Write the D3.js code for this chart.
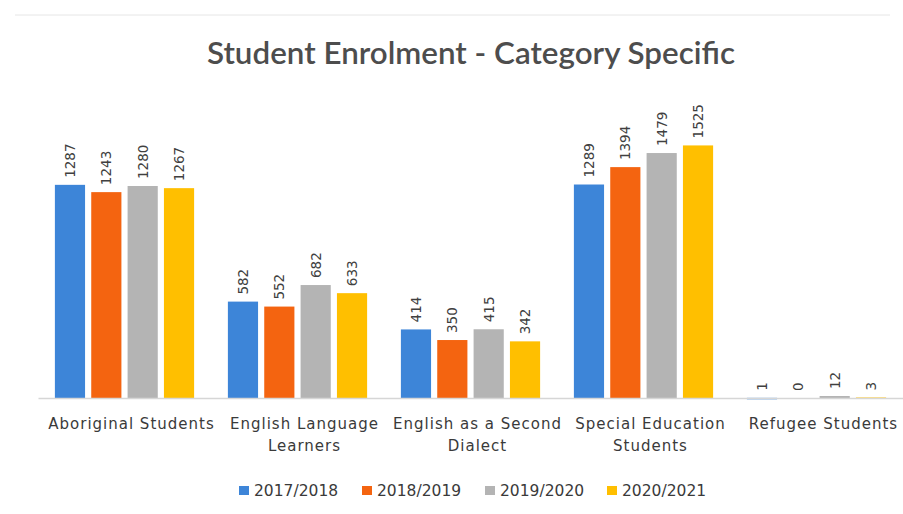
<!DOCTYPE html>
<html><head><meta charset="utf-8">
<script src="https://cdn.jsdelivr.net/npm/d3@7/dist/d3.min.js"></script>
<style>body{margin:0;background:#fff}svg{display:block}</style>
</head><body>
<svg id="c" width="903" height="514"></svg>
<script>
const categories = [["Aboriginal Students"],["English Language","Learners"],["English as a Second","Dialect"],["Special Education","Students"],["Refugee Students"]];
const series = ["2017/2018","2018/2019","2019/2020","2020/2021"];
const colors = ["#3d85d8","#f46410","#b4b4b4","#ffbf00"];
const v2017 = [1287,582,414,1289,1];
const v2018 = [1243,552,350,1394,0];
const v2019 = [1280,682,415,1479,12];
const v2020 = [1267,633,342,1525,3];
const values = [v2017,v2018,v2019,v2020];

const svg = d3.select("#c");
svg.append("rect").attr("x",0).attr("y",0).attr("width",903).attr("height",514).attr("fill","#fff");
svg.append("line").attr("x1",15).attr("x2",890).attr("y1",15).attr("y2",15).attr("stroke","#e6e6e6");

const x0 = d3.scaleBand().domain(d3.range(categories.length)).range([38,903]).paddingInner(0.17).paddingOuter(0.085);
const x1 = d3.scaleBand().domain(d3.range(series.length)).range([0,x0.bandwidth()]).paddingInner(0.17).paddingOuter(0.06);
const y = d3.scaleLinear().domain([0,1600]).range([398,133]);

svg.append("text").attr("x",471).attr("y",64).attr("text-anchor","middle")
  .attr("font-family","Lato").attr("font-size",30).attr("font-weight",600).attr("fill","#4d4d4d")
  .attr("textLength",528).attr("lengthAdjust","spacingAndGlyphs").text("Student Enrolment  - Category Specific");

const g = svg.append("g");
series.forEach((s,si)=>{
  categories.forEach((c,ci)=>{
    const v = values[si][ci];
    const bx = x0(ci)+x1(si), bw = x1.bandwidth();
    g.append("rect").attr("x",bx).attr("y",y(v)).attr("width",bw).attr("height",Math.max(y(0)-y(v), v>0?1.5:0.8))
      .attr("fill",colors[si]).attr("opacity", v>0?1:0.5);
    const tx = bx+bw/2+5, ty = y(v)-7;
    g.append("text").attr("transform",`translate(${tx},${ty}) rotate(-90)`)
      .attr("font-family","DejaVu Sans").attr("font-size",13.5).attr("fill","#404040").text(v);
  });
});

const axis = d3.axisBottom(x0).tickSize(0).tickFormat("");
const ag = svg.append("g").attr("transform","translate(0,398)").call(axis);
ag.select(".domain").attr("stroke","#d6d6d6").attr("stroke-width",1.5);

categories.forEach((lines,ci)=>{
  lines.forEach((l,li)=>{
    svg.append("text").attr("x",x0(ci)+x0.bandwidth()/2+7).attr("y",429+li*22).attr("text-anchor","middle")
      .attr("font-family","DejaVu Sans").attr("font-size",15).attr("letter-spacing",1.0).attr("fill","#3a3a3a").text(l);
  });
});

const legX = [239,362,485,607];
series.forEach((s,i)=>{
  svg.append("rect").attr("x",legX[i]).attr("y",486).attr("width",10).attr("height",9).attr("fill",colors[i]);
  svg.append("text").attr("x",legX[i]+15).attr("y",496).attr("font-family","DejaVu Sans").attr("font-size",15.5)
    .attr("fill","#3a3a3a").text(s);
});
</script>
</body></html>
